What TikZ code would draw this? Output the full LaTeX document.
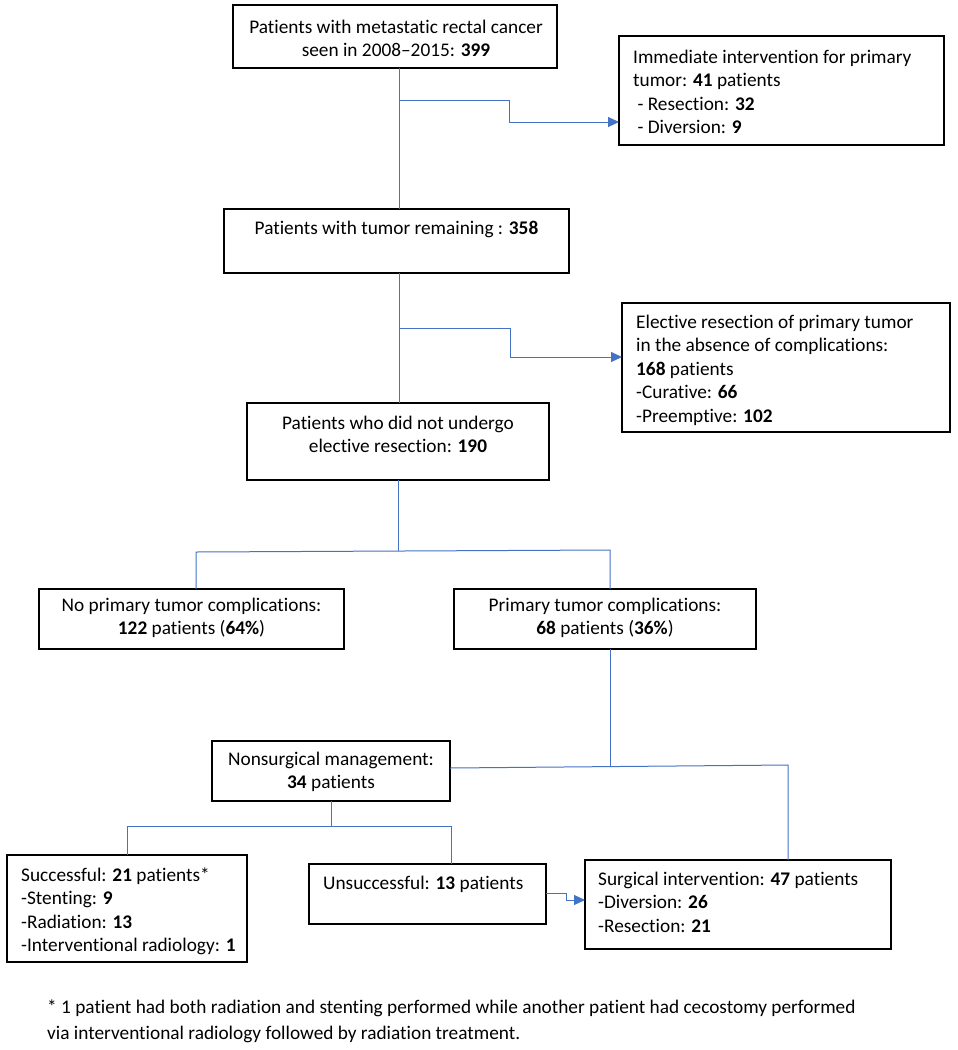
\documentclass[tikz,border=0pt]{standalone}
\usepackage{fontspec}
\setmainfont{Carlito}[Ligatures={NoCommon,TeX}]
\usetikzlibrary{arrows.meta}
\definecolor{conncol}{HTML}{4472C4}
\begin{document}
\begin{tikzpicture}[x=1pt,y=-1pt,
  box/.style 2 args={draw=black, line width=1.3pt, anchor=north west, inner sep=0pt, outer sep=0pt, minimum width=#1, minimum height=#2},
  txt/.style={inner sep=0pt, font=\fontsize{19.3}{23.5}\selectfont},
  ctxt/.style={txt, anchor=base},
  ltxt/.style={txt, anchor=base west},
  conn/.style={draw=conncol, line width=1pt},
  arr/.style={conn, -{Triangle[length=11pt,width=10pt]}}]
\fill[white] (0,0) rectangle (958,1050);
\useasboundingbox (0,0) rectangle (958,1050);

% boxes
\node[box={324}{63}] (b1) at (233,5) {};
\node[box={325}{109}] (bim) at (619,36) {};
\node[box={345}{64}] (b2) at (224,209) {};
\node[box={328}{129}] (bel) at (622,303) {};
\node[box={302}{77}] (b3) at (247,403) {};
\node[box={305}{60}] (bno) at (39,589) {};
\node[box={302}{60}] (bco) at (454,589) {};
\node[box={238}{60}] (bns) at (212,741) {};
\node[box={240}{107}] (bsc) at (7,855) {};
\node[box={237}{60}] (bun) at (309,864) {};
\node[box={306}{89}] (bsu) at (585,860) {};

% texts
\node[ctxt] (t1) at (396,33) {\begin{tabular}[t]{@{}c@{}}Patients with metastatic rectal cancer\\seen in 2008--2015: \textbf{399}\end{tabular}};
\node[ltxt] (tim) at (633,63) {\begin{tabular}[t]{@{}l@{}}Immediate intervention for primary\\tumor: \textbf{41} patients\\\ - Resection: \textbf{32}\\\ - Diversion: \textbf{9}\end{tabular}};
\node[ctxt] (t2) at (396.5,234) {Patients with tumor remaining : \textbf{358}};
\node[ltxt] (tel) at (636,328) {\begin{tabular}[t]{@{}l@{}}Elective resection of primary tumor\\in the absence of complications:\\\textbf{168} patients\\-Curative: \textbf{66}\\-Preemptive: \textbf{102}\end{tabular}};
\node[ctxt] (t3) at (398,429) {\begin{tabular}[t]{@{}c@{}}Patients who did not undergo\\elective resection: \textbf{190}\end{tabular}};
\node[ctxt] (tno) at (191.5,611) {\begin{tabular}[t]{@{}c@{}}No primary tumor complications:\\\textbf{122} patients (\textbf{64\%})\end{tabular}};
\node[ctxt] (tco) at (605,611) {\begin{tabular}[t]{@{}c@{}}Primary tumor complications:\\\textbf{68} patients (\textbf{36\%})\end{tabular}};
\node[ctxt] (tns) at (331,765) {\begin{tabular}[t]{@{}c@{}}Nonsurgical management:\\\textbf{34} patients\end{tabular}};
\node[ltxt] (tsc) at (21,881) {\begin{tabular}[t]{@{}l@{}}Successful: \textbf{21} patients*\\-Stenting: \textbf{9}\\-Radiation: \textbf{13}\\-Interventional radiology: \textbf{1}\end{tabular}};
\node[ltxt] (tun) at (323,889) {Unsuccessful: \textbf{13} patients};
\node[ltxt] (tsu) at (598,885) {\begin{tabular}[t]{@{}l@{}}Surgical intervention: \textbf{47} patients\\-Diversion: \textbf{26}\\-Resection: \textbf{21}\end{tabular}};
\node[ltxt] (fn) at (47,1013) {\begin{tabular}[t]{@{}l@{}}* 1 patient had both radiation and stenting performed while another patient had cecostomy performed\\[2.5pt]via interventional radiology followed by radiation treatment.\end{tabular}};

% connector coordinates
\coordinate (j1) at (399,100);
\coordinate (a1) at (509,122);
\coordinate (j2) at (399,328);
\coordinate (a2) at (510,357);
\coordinate (j3) at (398,551);
\coordinate (l3) at (196,552);
\coordinate (r3) at (610,550);
\coordinate (j4) at (610,766);
\coordinate (h4) at (450,768);
\coordinate (r4) at (788,765);
\coordinate (j5) at (331,826);
\coordinate (l5) at (127,826);
\coordinate (r5) at (451,826);
\coordinate (u1) at (566,893);
\coordinate (u2) at (566,900);

% connectors
\draw[conn] (b1.south -| j1) -- (b2.north -| j1);
\draw[arr] (j1) -| (a1) -- (a1 -| bim.west);
\draw[conn] (b2.south -| j2) -- (b3.north -| j2);
\draw[arr] (j2) -| (a2) -- (a2 -| bel.west);
\draw[conn] (b3.south -| j3) -- (j3);
\draw[conn] (bno.north -| l3) -- (l3) -- (r3) -- (bco.north -| r3);
\draw[conn] (bco.south -| j4) -- (j4);
\draw[conn] (bns.east |- h4) -- (r4) -- (bsu.north -| r4);
\draw[conn] (bns.south -| j5) -- (j5);
\draw[conn] (bsc.north -| l5) -- (l5) -- (r5) -- (bun.north -| r5);
\draw[arr] (bun.east |- u1) -- (u1) -- (u2) -- (u2 -| bsu.west);
\end{tikzpicture}
\end{document}
